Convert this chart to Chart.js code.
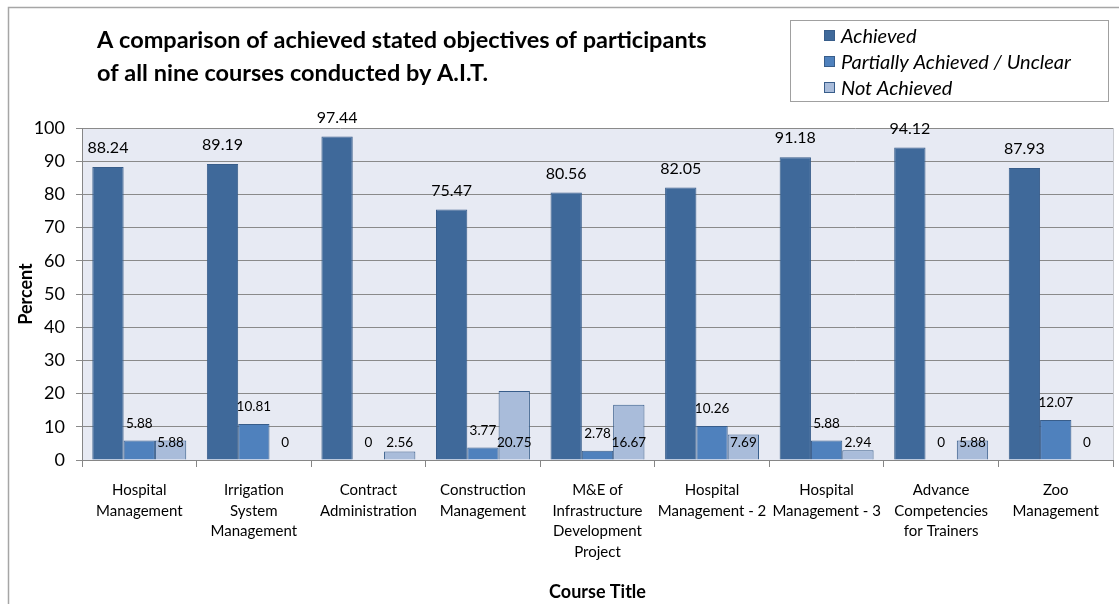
<!DOCTYPE html>
<html>
<head>
<meta charset="utf-8">
<script src="https://cdn.jsdelivr.net/npm/chart.js@4.4.1/dist/chart.umd.min.js"></script>
<style>
    html, body { margin: 0; padding: 0; background: #ffffff; }
    #wrap { width: 1119px; height: 604px; position: relative; }
</style>
</head>
<body>
<div id="wrap"><canvas id="chart" width="1119" height="604"></canvas></div>
<script>
// Chart data
const courses = [
    ['Hospital', 'Management'],
    ['Irrigation', 'System', 'Management'],
    ['Contract', 'Administration'],
    ['Construction', 'Management'],
    ['M&E of', 'Infrastructure', 'Development', 'Project'],
    ['Hospital', 'Management - 2'],
    ['Hospital', 'Management - 3'],
    ['Advance', 'Competencies', 'for Trainers'],
    ['Zoo', 'Management']
];
const achieved = [88.24, 89.19, 97.44, 75.47, 80.56, 82.05, 91.18, 94.12, 87.93];
const partial = [5.88, 10.81, 0, 3.77, 2.78, 10.26, 5.88, 0, 12.07];
const notAchieved = [5.88, 0, 2.56, 20.75, 16.67, 7.69, 2.94, 5.88, 0];
const seriesNames = ['Achieved', 'Partially Achieved / Unclear', 'Not Achieved'];
const yTicks = [0, 10, 20, 30, 40, 50, 60, 70, 80, 90, 100];

const FONT = 'Lato, "Noto Sans", sans-serif';
const colors = ['#3f699a', '#4f81bd', '#a9bcda'];

// Outer frame, plot background, title and legend
const decorPlugin = {
    id: 'decor',
    beforeDraw(chart) {
        const ctx = chart.ctx;
        const area = chart.chartArea;
        ctx.save();
        ctx.strokeStyle = '#a6a6a6';
        ctx.lineWidth = 1.5;
        ctx.strokeRect(8.5, 7.5, 1300, 700);
        ctx.fillStyle = '#e7eaf3';
        ctx.fillRect(area.left, area.top, area.right - area.left, area.bottom - area.top);
        ctx.strokeStyle = '#c8cad0';
        ctx.lineWidth = 1;
        ctx.beginPath();
        ctx.moveTo(area.right + 0.5, area.top);
        ctx.lineTo(area.right + 0.5, area.bottom);
        ctx.stroke();
        ctx.restore();
    },
    afterDraw(chart) {
        const ctx = chart.ctx;
        ctx.save();
        // title
        ctx.fillStyle = '#000000';
        ctx.font = 'bold 23.5px ' + FONT;
        ctx.textAlign = 'left';
        ctx.textBaseline = 'middle';
        ctx.fillText('A comparison of achieved stated objectives of participants', 97, 40);
        ctx.fillText('of all nine courses conducted by A.I.T.', 97, 73);
        // legend
        ctx.fillStyle = '#ffffff';
        ctx.fillRect(790, 20, 318, 81);
        ctx.strokeStyle = '#a0a0a0';
        ctx.lineWidth = 1;
        ctx.strokeRect(790.5, 20.5, 318, 81);
        ctx.font = 'italic 20px ' + FONT;
        seriesNames.forEach((name, i) => {
            const y = 36 + i * 26;
            ctx.fillStyle = colors[i];
            ctx.fillRect(824, y - 6, 11, 11);
            ctx.strokeStyle = '#385d8a';
            ctx.strokeRect(824.5, y - 5.5, 10, 10);
            ctx.fillStyle = '#000000';
            ctx.fillText(name, 841, y + 1);
        });
        // data labels
        const yScale = chart.scales.y;
        ctx.textAlign = 'center';
        chart.data.datasets.forEach((ds, di) => {
            const meta = chart.getDatasetMeta(di);
            meta.data.forEach((bar, i) => {
                const v = ds.data[i];
                let y;
                if (di === 2) {
                    y = yScale.getPixelForValue(0) - 17;
                } else {
                    y = bar.y - (di === 0 ? 19 : 17);
                }
                ctx.font = (di === 0 ? '16px ' : '13.5px ') + FONT;
                ctx.fillStyle = '#000000';
                ctx.fillText(String(v), bar.x, y);
            });
        });
        ctx.restore();
    }
};

const ctx = document.getElementById('chart').getContext('2d');
const chart = new Chart(ctx, {
    type: 'bar',
    data: {
        labels: courses,
        datasets: [
            { label: seriesNames[0], data: achieved, backgroundColor: colors[0], borderColor: '#385d8a', borderWidth: 1 },
            { label: seriesNames[1], data: partial, backgroundColor: colors[1], borderColor: '#385d8a', borderWidth: 1 },
            { label: seriesNames[2], data: notAchieved, backgroundColor: colors[2], borderColor: '#385d8a', borderWidth: 1 }
        ]
    },
    options: {
        responsive: false,
        animation: false,
        maintainAspectRatio: false,
        layout: { padding: { left: 10, top: 128, right: 6, bottom: 0 } },
        datasets: { bar: { categoryPercentage: 0.82, barPercentage: 1 } },
        plugins: {
            legend: { display: false },
            title: { display: false },
            tooltip: { enabled: false }
        },
        scales: {
            x: {
                grid: { display: true, drawOnChartArea: false, drawTicks: true, tickLength: 7, color: '#868686', offset: true },
                border: { display: true, color: '#868686' },
                ticks: { color: '#000000', font: { family: FONT, size: 15, lineHeight: 1.37 }, maxRotation: 0, autoSkip: false, padding: 13 },
                title: { display: true, text: 'Course Title', color: '#000000', font: { family: FONT, size: 18, weight: 'bold' }, padding: { top: 0, bottom: 1 } },
                afterFit(scale) { scale.height = 144; }
            },
            y: {
                min: 0,
                max: 100,
                afterBuildTicks(scale) { scale.ticks = yTicks.map(v => ({ value: v })); },
                grid: { color: '#8a8a8a', tickLength: 6, drawTicks: true },
                border: { display: true, color: '#868686' },
                ticks: { color: '#000000', font: { family: FONT, size: 18 }, padding: 11 },
                title: { display: true, text: 'Percent', color: '#000000', font: { family: FONT, size: 18, weight: 'bold' }, padding: { top: 5, bottom: 4 } },
                afterFit(scale) { scale.width = 72; }
            }
        }
    },
    plugins: [decorPlugin]
});
</script>
</body>
</html>
